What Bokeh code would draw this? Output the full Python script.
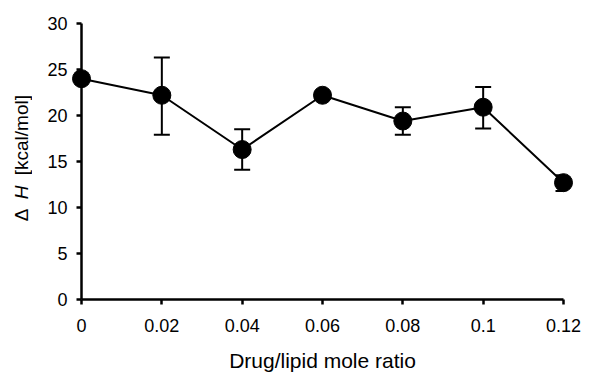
from bokeh.plotting import figure
from bokeh.layouts import row
from bokeh.models import ColumnDataSource, Whisker, TeeHead, FixedTicker, Range1d, Div
from bokeh.embed import file_html
from bokeh.resources import INLINE

ratio = [0.0, 0.02, 0.04, 0.06, 0.08, 0.10, 0.12]
dH = [24.0, 22.2, 16.3, 22.2, 19.4, 20.9, 12.7]
err_upper = [24.0, 26.3, 18.5, 22.6, 20.9, 23.1, 13.5]
err_lower = [24.0, 17.9, 14.1, 21.8, 17.9, 18.6, 11.8]
x_ticks = [0.0, 0.02, 0.04, 0.06, 0.08, 0.10, 0.12]
x_tick_labels = ["0", "0.02", "0.04", "0.06", "0.08", "0.1", "0.12"]
y_ticks = [0, 5, 10, 15, 20, 25, 30]
y_label_parts = ["\u0394", "H", "[kcal/mol]"]

FONT = "Liberation Sans"

src = ColumnDataSource(dict(x=ratio, y=dH, up=err_upper, lo=err_lower))

p = figure(width=560, height=374, output_backend="svg", toolbar_location=None,
           x_range=Range1d(0, 0.12), y_range=Range1d(0, 30),
           min_border_left=41, min_border_right=37, min_border_top=23, min_border_bottom=75)
p.outline_line_color = None
p.xgrid.visible = False
p.ygrid.visible = False

wh = Whisker(source=src, base="x", upper="up", lower="lo", line_color="black", line_width=2,
             upper_head=TeeHead(size=16, line_color="black", line_width=2),
             lower_head=TeeHead(size=16, line_color="black", line_width=2), level="overlay")
p.add_layout(wh)

l = p.line("x", "y", source=src, line_color="black", line_width=2)
l.level = "overlay"
s = p.scatter("x", "y", source=src, size=18, fill_color="black", line_color="black")
s.level = "overlay"

for ax in (p.xaxis[0], p.yaxis[0]):
    ax.axis_line_width = 2.5
    ax.axis_line_color = "black"
    ax.major_tick_line_width = 2.5
    ax.major_tick_line_color = "black"
    ax.major_tick_in = 0
    ax.major_tick_out = 5
    ax.minor_tick_line_color = None
    ax.major_label_text_font = FONT
    ax.major_label_text_font_size = "18px"
    ax.major_label_text_color = "black"
    ax.axis_label_text_font = FONT
    ax.axis_label_text_font_style = "normal"
    ax.axis_label_text_color = "black"

p.xaxis.ticker = FixedTicker(ticks=x_ticks)
p.xaxis.major_label_overrides = {t: lab for t, lab in zip(x_ticks, x_tick_labels)}
p.xaxis.major_label_standoff = 14
p.xaxis.axis_label = "Drug/lipid mole ratio"
p.xaxis.axis_label_text_font_size = "21px"
p.xaxis.axis_label_standoff = 14

p.yaxis.ticker = FixedTicker(ticks=y_ticks)
p.yaxis.major_label_standoff = 9

# y-axis title with mixed upright / italic text, written bottom-to-top
label_html = (
    '<div style="margin-top:95px; margin-left:12px; writing-mode:vertical-rl; '
    'transform:rotate(180deg); font-family:\'Liberation Sans\'; font-size:19px; '
    'line-height:20px; color:black; white-space:nowrap;">'
    '<span style="display:inline-block; inline-size:22px;">' + y_label_parts[0] + '</span>'
    '<span style="display:inline-block; inline-size:24px; font-style:italic;">' + y_label_parts[1] + '</span>'
    '<span>' + y_label_parts[2] + '</span></div>'
)
side = Div(text=label_html, width=40, height=374, margin=(0, 0, 0, 0))

layout = row(side, p)
open("out.html", "w").write(file_html(layout, INLINE))
